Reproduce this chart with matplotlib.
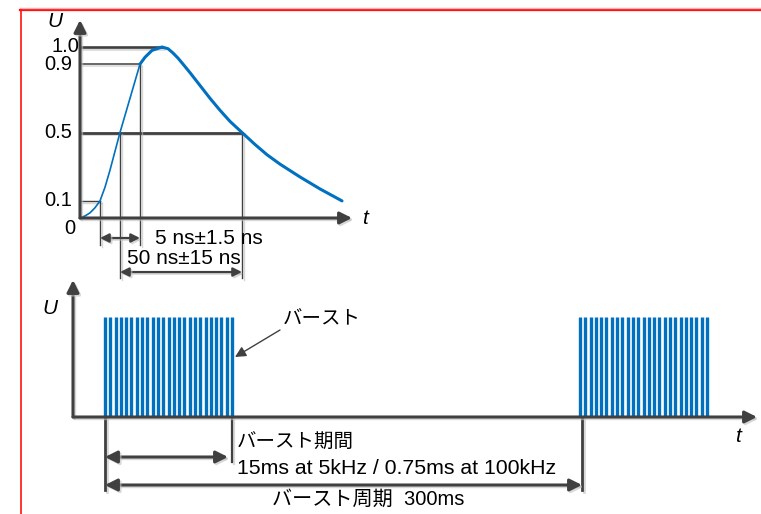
import numpy as np
import matplotlib.pyplot as plt
import matplotlib.patheffects as pe

# 上段: EFTパルス波形 (t は図式上の単位, U は正規化値)
rise_t = [0, 5, 10, 15, 20, 25, 30, 35, 40, 45, 50, 55, 60]
rise_u = [0, 0.012, 0.03, 0.06, 0.1, 0.18, 0.28, 0.39, 0.5, 0.6, 0.7, 0.8, 0.9]
fall_t = [60, 65, 72, 82, 88, 93, 98, 103, 110, 120, 130, 140, 150, 162, 175, 187, 200, 220, 240, 262]
fall_u = [0.9, 0.94, 0.98, 1.0, 0.99, 0.965, 0.935, 0.9, 0.85, 0.775, 0.7, 0.63, 0.565, 0.5, 0.43, 0.37, 0.315, 0.24, 0.17, 0.1]
levels = [1.0, 0.9, 0.5, 0.1]
level_labels = ['1.0', '0.9', '0.5', '0.1']
t10, t50r, t90, tpk, t50f = 20, 40, 60, 82, 162
rise_label = '5 ns±1.5 ns'
width_label = '50 ns±15 ns'

# 下段: バースト列 (図式上の単位)
burst_starts = [32, 507]
burst_width = 127
n_pulses = 25
pulse_height = 1.0
burst_label = 'バースト'
dur_label = 'バースト期間'
dur_text = '15ms at 5kHz / 0.75ms at 100kHz'
period_label = 'バースト周期  300ms'

blue = '#0070C0'
gray = '#404040'
jp = ['Liberation Sans', 'Noto Sans CJK JP']
shadow = [pe.SimpleLineShadow(offset=(1.2, -1.2), shadow_color='0.75', alpha=0.6), pe.Normal()]

fig = plt.figure(figsize=(7.61, 5.14), dpi=100)

# 枠
fr = fig.add_axes([0, 0, 1, 1])
fr.set_xlim(0, 761)
fr.set_ylim(514, 0)
fr.axis('off')
fr.plot([20, 761], [9.5, 9.5], color='#FF1010', lw=1.6)
fr.plot([20, 761], [8, 8], color='#FFB0B0', lw=1)
fr.plot([20.5, 20.5], [9.5, 514], color='#FF1010', lw=1.2)

# 上段
ax1 = fig.add_axes([0, 0, 1, 1])
ax1.set_xlim(-80, 681)
ax1.set_ylim(-296 / 171, 218 / 171)
ax1.axis('off')


def arrow(ax, p0, p1, style='-|>', lw=2.2, ms=18, color=gray):
    ax.annotate('', xy=p1, xytext=p0,
                arrowprops=dict(arrowstyle=style, lw=lw, color=color, mutation_scale=ms,
                                shrinkA=0, shrinkB=0, path_effects=shadow))


arrow(ax1, (0, 0), (0, 1.158))
arrow(ax1, (0, 0), (272, 0))

ends = {1.0: tpk, 0.9: t90, 0.5: t50f, 0.1: t10}
widths = {1.0: 1.9, 0.9: 1.1, 0.5: 2.0, 0.1: 1.0}
for lv, lab in zip(levels, level_labels):
    ax1.plot([0, ends[lv]], [lv, lv], color=gray, lw=widths[lv], path_effects=shadow)
    xr = -1 if lv == 1.0 else -8
    ax1.text(xr, lv, lab, ha='right', va='center', fontsize=14.5, family='Liberation Sans')
ax1.text(-10, -0.06, '0', ha='center', va='center', fontsize=14.5, family='Liberation Sans')

for tx, lv, bot in [(t10, 0.1, -0.16), (t90, 0.9, -0.16), (t50r, 0.5, -0.35), (t50f, 0.5, -0.35)]:
    ax1.plot([tx, tx], [lv, bot], color=gray, lw=1.0, path_effects=shadow)

ax1.plot(rise_t, rise_u, color=blue, lw=1.2)
ax1.plot(fall_t, fall_u, color=blue, lw=2.2, solid_capstyle='round')

arrow(ax1, (t10, -0.117), (t90, -0.117), style='<|-|>', lw=1.6, ms=13)
arrow(ax1, (t50r, -0.316), (t50f, -0.316), style='<|-|>', lw=1.6, ms=13)
ax1.text(75, -0.117, rise_label, ha='left', va='center', fontsize=15, family='Liberation Sans')
ax1.text(47, -0.234, width_label, ha='left', va='center', fontsize=15, family='Liberation Sans')
ax1.text(-25, 1.15, 'U', ha='center', va='center', fontsize=15, style='italic', family='Liberation Sans')
ax1.text(285, 0, 't', ha='center', va='center', fontsize=15, style='italic', family='Liberation Sans')

# 下段
ax2 = fig.add_axes([0, 0, 1, 1])
ax2.set_xlim(-73, 688)
ax2.set_ylim(-0.97, 4.17)
ax2.axis('off')

spacing = burst_width / (n_pulses - 1)
for s in burst_starts:
    xs = s + np.arange(n_pulses) * spacing
    ax2.vlines(xs, 0, pulse_height, color=blue, lw=2.4, zorder=3)

arrow(ax2, (0, 0), (0, 1.37))
arrow(ax2, (0, 0), (684, 0))
ax2.text(-23, 1.09, 'U', ha='center', va='center', fontsize=15, style='italic', family='Liberation Sans')
ax2.text(665, -0.2, 't', ha='center', va='center', fontsize=15, style='italic', family='Liberation Sans')

s0, s1 = burst_starts
ax2.plot([s0, s0], [0, -0.73], color=gray, lw=2.0, path_effects=shadow)
ax2.plot([s0 + burst_width, s0 + burst_width], [0, -0.45], color=gray, lw=1.6, path_effects=shadow)
ax2.plot([s1 + 2, s1 + 2], [0, -0.73], color=gray, lw=2.0, path_effects=shadow)
arrow(ax2, (s0, -0.40), (s0 + burst_width - 4, -0.40), style='<|-|>', lw=2.2, ms=18)
arrow(ax2, (s0, -0.68), (s1 + 2, -0.68), style='<|-|>', lw=2.2, ms=18)

ax2.text(s0 + burst_width + 5, -0.26, dur_label, ha='left', va='center', fontsize=14, family=jp)
ax2.text(s0 + burst_width + 5, -0.52, dur_text, ha='left', va='center', fontsize=15.3, family=jp)
ax2.text(199, -0.82, period_label, ha='left', va='center', fontsize=14.5, family=jp)
ax2.text(210, 0.97, burst_label, ha='left', va='center', fontsize=14, family=jp)
ax2.annotate('', xy=(162, 0.60), xytext=(207, 0.87),
             arrowprops=dict(arrowstyle='-|>', lw=1.0, color=gray, mutation_scale=16,
                             shrinkA=0, shrinkB=0))

fig.savefig('out.png', dpi=100)
